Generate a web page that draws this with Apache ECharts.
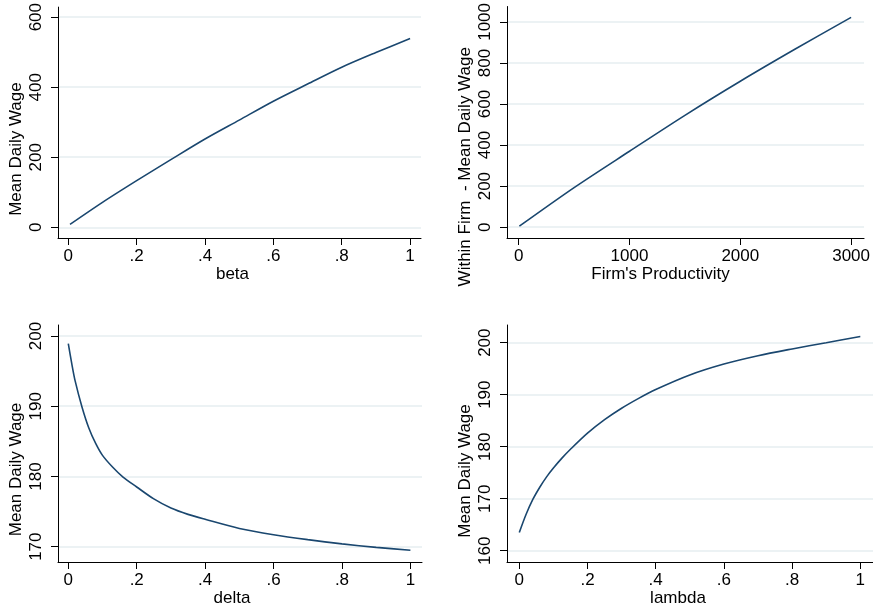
<!DOCTYPE html>
<html><head><meta charset="utf-8">
<script src="https://cdn.jsdelivr.net/npm/echarts@6/dist/echarts.min.js"></script>
<style>html,body{margin:0;padding:0;background:#fff}#c{width:873px;height:613px}</style>
</head><body><div id="c"></div><script>
// ---- Data ----
const betaX = [0.005, 0.1, 0.2, 0.3, 0.4, 0.5, 0.6, 0.7, 0.8, 0.9, 1];
const betaWage = [8, 71, 133, 193, 252, 306, 360, 409, 457, 499, 539];

const prodX = [6, 500, 1000, 1500, 2000, 2500, 3000];
const prodWage = [5, 193, 370, 545, 711, 869, 1022];

const deltaX = [0, 0.01, 0.02, 0.04, 0.06, 0.08, 0.1, 0.13, 0.16, 0.2, 0.25, 0.3, 0.35, 0.4, 0.5, 0.6, 0.7, 0.8, 0.9, 1];
const deltaWage = [198.9, 196.1, 193.6, 189.9, 186.9, 184.7, 183.0, 181.3, 179.9, 178.5, 176.8, 175.5, 174.6, 173.9, 172.6, 171.7, 171.0, 170.4, 169.9, 169.5];

const lambdaX = [0, 0.02, 0.04, 0.06, 0.08, 0.1, 0.125, 0.15, 0.2, 0.25, 0.3, 0.35, 0.4, 0.5, 0.6, 0.7, 0.8, 0.9, 1];
const lambdaWage = [163.5, 167.0, 169.9, 172.2, 174.2, 175.9, 177.8, 179.5, 182.6, 185.2, 187.4, 189.3, 191.0, 193.8, 195.9, 197.5, 198.8, 200.0, 201.2];

const unitTicks = [0, 0.2, 0.4, 0.6, 0.8, 1];
const prodTicks = [0, 1000, 2000, 3000];
const betaYTicks = [0, 200, 400, 600];
const prodYTicks = [0, 200, 400, 600, 800, 1000];
const deltaYTicks = [170, 180, 190, 200];
const lambdaYTicks = [160, 170, 180, 190, 200];

const xNames = ['beta', "Firm's Productivity", 'delta', 'lambda'];
const yNames = ['Mean Daily Wage', 'Within Firm  - Mean Daily Wage', 'Mean Daily Wage', 'Mean Daily Wage'];

// ---- Styling / layout ----
const FONT = 'Liberation Sans, Arial, sans-serif';
const FS = 17;
const LINE = '#1a476f';
const GRIDC = '#e6eef0';
const fmt = v => { if (v === 0) return '0'; if (v === 1) return '1'; return (Math.abs(v) < 1) ? String(v).replace('0.', '.') : String(v); };

const panels = [
  {grid:{left:58, right:452, top:2, bottom:375}, xr:[-0.0301, 1.0319], yr:[-30.7, 628.8], xt:unitTicks, yt:betaYTicks, xs:betaX, ys:betaWage, xpad:14, ypad:53},
  {grid:{left:507, right:0, top:2, bottom:375}, xr:[-105.7, 3117], yr:[-52.6, 1075], xt:prodTicks, yt:prodYTicks, xs:prodX, ys:prodWage, xpad:50, ypad:89},
  {grid:{left:58, right:451, top:325, bottom:51}, xr:[-0.0301, 1.0339], yr:[167.82, 201.56], xt:unitTicks, yt:deltaYTicks, xs:deltaX, ys:deltaWage, xpad:16, ypad:52},
  {grid:{left:507, right:0, top:325, bottom:51}, xr:[-0.0361, 1.0372], yr:[157.83, 203.4], xt:unitTicks, yt:lambdaYTicks, xs:lambdaX, ys:lambdaWage, xpad:24, ypad:55}
];

const option = {animation:false, backgroundColor:'#fff', grid:[], xAxis:[], yAxis:[], series:[]};
panels.forEach((p, i) => {
  option.grid.push(Object.assign({containLabel:false}, p.grid));
  option.xAxis.push({
    gridIndex:i, type:'value', min:p.xr[0], max:p.xr[1],
    axisLine:{show:true, onZero:false, lineStyle:{color:'#000', width:1}},
    axisTick:{show:true, length:7, lineStyle:{color:'#000', width:1}, customValues:p.xt},
    axisLabel:{customValues:p.xt, formatter:fmt, color:'#000', fontSize:FS, fontFamily:FONT, margin:10},
    splitLine:{show:false},
    name:xNames[i], nameLocation:'middle', nameGap:28,
    nameTextStyle:{color:'#000', fontSize:FS, fontFamily:FONT, padding:[0, p.xpad, 0, 0]}
  });
  option.yAxis.push({
    gridIndex:i, type:'value', min:p.yr[0], max:p.yr[1],
    axisLine:{show:true, onZero:false, lineStyle:{color:'#000', width:1}},
    axisTick:{show:true, length:7, lineStyle:{color:'#000', width:1}, customValues:p.yt},
    axisLabel:{customValues:p.yt, formatter:fmt, color:'#000', fontSize:FS, fontFamily:FONT, margin:13, rotate:90},
    splitLine:{show:true, lineStyle:{color:GRIDC, width:1.5}},
    name:yNames[i], nameLocation:'middle', nameGap:33, nameRotate:90,
    nameTextStyle:{color:'#000', fontSize:FS, fontFamily:FONT, padding:[0, p.ypad, 0, 0]}
  });
  option.series.push({
    type:'line', xAxisIndex:i, yAxisIndex:i, smooth:0.3, symbol:'none',
    lineStyle:{color:LINE, width:1.6},
    data:p.xs.map((x, k) => [x, p.ys[k]])
  });
});

const chart = echarts.init(document.getElementById('c'), null, {renderer:'canvas'});
chart.setOption(option);
</script></body></html>
